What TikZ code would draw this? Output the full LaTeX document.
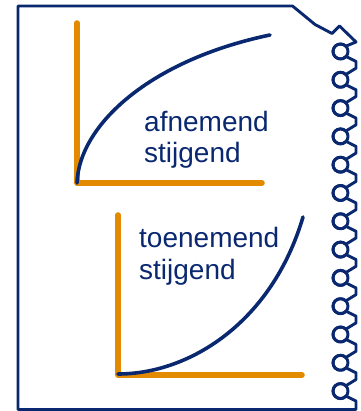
\documentclass[tikz,border=0pt]{standalone}
\usepackage{fontspec}
\setmainfont{Liberation Sans}
\usetikzlibrary{calc}
\definecolor{navy}{RGB}{10,40,112}
\definecolor{axisorange}{RGB}{227,139,0}
\tikzset{
  pageline/.style={draw=navy,line width=2.9pt,line join=round},
  axisline/.style={draw=axisorange,line width=5.5pt,line cap=round,line join=round},
  curveline/.style={draw=navy,line width=3.6pt,line cap=round},
  curvelabel/.style={text=navy,font=\fontsize{28}{31.5}\selectfont,align=left,inner sep=0pt,anchor=north west}
}
\begin{document}
\begin{tikzpicture}[x=1pt,y=1pt]
\useasboundingbox (0,0) rectangle (360,411);
\fill[white] (0,0) rectangle (360,411);
% page with spiral binding
\draw[pageline] (18,1.5) -- (18,405) -- (292.5,405) -- (315,386.5) -- (332,377.5) -- (339.5,385) -- (356,369)
  \foreach \k in {0,...,12} {
    -- ($(340.5,{359.5-28.3*\k})+(45:7.5pt)$)
    arc[start angle=45,end angle=318,radius=7.5pt]
    -- (356,{359.5-28.3*\k-10}) -- (356,{359.5-28.3*\k-16.7})
  }
  -- (356,1.5) -- cycle;
\foreach \k in {0,...,12} {
  \draw[pageline] (340.5,{359.5-28.3*\k}) circle[radius=7.5pt];
}
% top graph
\coordinate (o1) at (77,228);
\coordinate (y1) at (77,388);
\coordinate (x1) at (262,228);
\coordinate (e1) at (270,376);
\draw[axisline] (y1) -- (o1) -- (x1);
\draw[curveline] (o1) .. controls (79,286) and (150,351) .. (e1);
\node[curvelabel] (t1) at (144,300.4) {afnemend\\stijgend};
% bottom graph
\coordinate (o2) at (118,36);
\coordinate (y2) at (118,196);
\coordinate (x2) at (302,36);
\coordinate (e2) at (303,194);
\draw[axisline] (y2) -- (o2) -- (x2);
\draw[curveline] (118,37) .. controls (190,37) and (272,89) .. (e2);
\node[curvelabel] (t2) at (139,183.5) {toenemend\\stijgend};
\end{tikzpicture}
\end{document}
